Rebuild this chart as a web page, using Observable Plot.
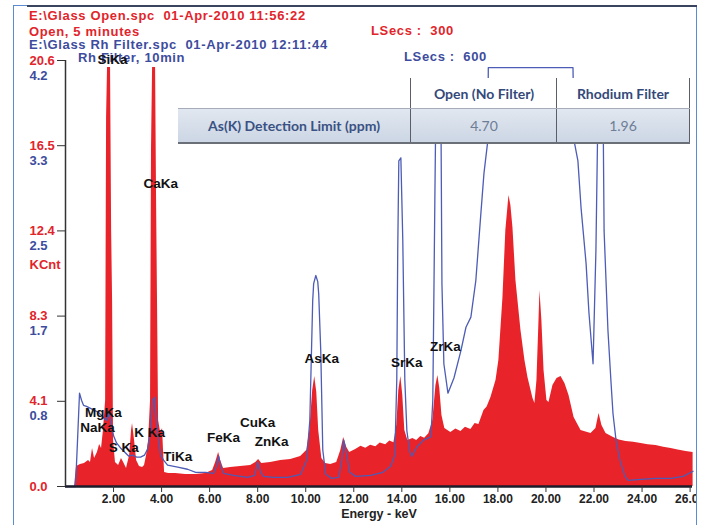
<!DOCTYPE html>
<html>
<head>
<meta charset="utf-8">
<script src="https://cdn.jsdelivr.net/npm/d3@7"></script>
<script src="https://cdn.jsdelivr.net/npm/@observablehq/plot@0.6"></script>
<style>
  html, body { margin: 0; padding: 0; background: #fff; overflow: hidden; }
  #wrap { position: relative; width: 706px; height: 525px; overflow: hidden; font-family: "Liberation Sans", Arial, sans-serif; }
  .hdr { position: absolute; font-weight: bold; font-size: 13px; line-height: 14px; white-space: pre; letter-spacing: 0.65px; z-index: 0; }
  .red { color: #e1252b; }
  .blue { color: #3d4c9e; }
  #plot { position: absolute; left: 0; top: 0; z-index: 1; }
  #tbl { position: absolute; left: 178px; top: 78px; width: 512px; height: 65px; z-index: 2; font-family: Lato, "Open Sans", sans-serif; }
  #tbl .hrow { position: absolute; left: 0; top: 0; width: 512px; height: 30px; }
  #tbl .drow { position: absolute; left: 0; top: 30px; width: 512px; height: 33px; background: linear-gradient(#e1e7f0, #ccd6e4); border-top: 1px solid #a7adb8; border-bottom: 2px solid #6b6f78; }
  #tbl .cell { position: absolute; top: 0; height: 100%; display: flex; align-items: center; justify-content: center; font-size: 14px; }
  #tbl .hrow .cell { background: #fff; font-weight: bold; color: #34497a; }
  #tbl .c1 { left: 0; width: 232px; }
  #tbl .c2 { left: 232px; width: 146px; border-left: 1.5px solid #5a5e68; }
  #tbl .c3 { left: 378px; width: 134px; border-left: 1.5px solid #5a5e68; border-right: 1.5px solid #5a5e68; box-sizing: border-box; }
  #tbl .hrow .c1 { background: transparent; }
  #tbl .drow .c1 { font-weight: bold; color: #3a5283; }
  #tbl .drow .c2, #tbl .drow .c3 { color: #6d7d95; }
  #frame { position: absolute; left: 13px; top: 5px; width: 682px; height: 560px; border: 1.5px solid #5b8bd0; z-index: 3; pointer-events: none; }
  #topline { position: absolute; left: 27px; top: 5px; width: 670px; height: 1.5px; background: #39445e; z-index: 4; }
</style>
</head>
<body>
<div id="wrap">
  <div class="hdr red" style="left:29px; top:9px;">E:\Glass Open.spc  01-Apr-2010 11:56:22</div>
  <div class="hdr red" style="left:29px; top:25px;">Open, 5 minutes</div>
  <div class="hdr red" style="left:371px; top:24px;">LSecs :  300</div>
  <div class="hdr blue" style="left:29px; top:38px;">E:\Glass Rh Filter.spc  01-Apr-2010 12:11:44</div>
  <div class="hdr blue" style="left:78px; top:51px;">Rh Filter, 10min</div>
  <div class="hdr blue" style="left:404px; top:50px;">LSecs :  600</div>
  <div id="plot"></div>
  <div id="tbl">
    <div class="hrow">
      <div class="cell c1"></div>
      <div class="cell c2">Open (No Filter)</div>
      <div class="cell c3">Rhodium Filter</div>
    </div>
    <div class="drow">
      <div class="cell c1">As(K) Detection Limit (ppm)</div>
      <div class="cell c2">4.70</div>
      <div class="cell c3">1.96</div>
    </div>
  </div>
  <div id="frame"></div>
  <div id="topline"></div>
</div>
<script>
// Open (no filter) spectrum, KCnt (red scale)
const redKeV = [0,0.375,0.46,0.625,0.79,0.96,1.04,1.125,1.21,1.33,1.42,1.5,1.58,1.67,1.71,1.75,1.875,1.92,1.96,2.0,
  2.08,2.21,2.33,2.42,2.54,2.67,2.75,2.79,2.875,2.96,3.08,3.21,3.29,3.375,3.46,3.54,3.58,3.625,3.75,3.79,
  3.83,3.875,3.96,4.04,4.08,4.125,4.29,4.58,5.0,5.42,5.83,6.125,6.25,6.375,6.46,6.58,6.875,7.29,7.71,7.92,
  8.04,8.17,8.54,8.96,9.375,9.79,10.04,10.17,10.29,10.375,10.46,10.54,10.67,10.83,11.04,11.29,11.46,11.58,11.71,11.83,
  12.08,12.3,12.5,12.7,12.92,13.1,13.33,13.5,13.67,13.79,13.875,13.96,14.04,14.125,14.25,14.46,14.62,14.79,14.95,15.125,
  15.29,15.42,15.5,15.58,15.67,15.79,16.04,16.25,16.46,16.65,16.875,17.05,17.21,17.42,17.55,17.71,17.92,18.04,18.21,18.33,
  18.46,18.54,18.625,18.75,18.96,19.125,19.25,19.46,19.54,19.625,19.71,19.75,19.83,19.92,20.04,20.125,20.29,20.46,20.625,20.79,
  20.96,21.17,21.46,21.7,21.875,22.08,22.21,22.33,22.5,22.79,23.05,23.33,23.65,23.96,24.25,24.58,24.9,25.21,25.5,25.83,26.125];
const redKCnt = [0,0,0.97,1.06,1.11,1.26,1.16,1.84,1.35,1.64,2.03,1.84,2.71,4.16,17.84,20.26,20.26,12.38,9.0,2.22,
  1.16,1.02,1.35,1.16,0.87,1.5,2.71,3.05,2.22,1.26,0.97,0.92,1.02,1.5,2.22,4.16,16.25,20.26,20.26,13.98,
  9.0,3.19,2.61,2.8,1.74,0.68,0.63,0.63,0.58,0.58,0.63,0.77,1.16,1.64,1.26,0.87,0.92,0.97,1.02,1.16,
  1.31,1.11,1.16,1.26,1.31,1.45,1.74,2.71,4.64,5.32,4.55,2.71,1.35,1.11,1.06,1.16,1.74,2.37,1.89,1.64,
  1.79,1.95,1.85,2.0,1.92,2.1,2.02,2.2,2.12,2.95,4.64,5.32,4.40,2.71,2.22,2.32,2.22,2.42,2.33,2.55,
  3.19,4.88,5.37,4.74,3.43,2.80,2.61,2.78,2.66,2.86,2.76,3.05,3.0,3.68,3.85,4.30,5.13,6.09,9.14,12.38,
  14.07,13.59,12.52,9.96,7.54,6.09,5.27,4.26,4.01,5.13,8.03,9.48,8.03,5.61,4.16,4.06,4.88,5.22,5.32,4.98,
  4.40,3.34,2.71,2.62,2.56,2.80,3.53,2.95,2.56,2.38,2.25,2.18,2.14,2.08,2.02,1.98,1.9,1.84,1.76,1.69,1.64];

// Rh filter spectrum, KCnt (blue scale)
const blueKeV = [0,0.417,0.5,0.583,0.667,0.75,0.875,1.04,1.21,1.375,1.54,1.71,1.79,1.875,2.0,2.125,2.29,2.46,2.625,2.79,
  2.96,3.125,3.29,3.42,3.54,3.625,3.71,3.79,3.875,3.96,4.08,4.25,4.67,5.08,5.42,5.83,6.17,6.29,6.375,6.46,
  6.58,7.0,7.58,7.875,8.0,8.125,8.25,8.67,9.25,9.79,10.04,10.17,10.29,10.33,10.42,10.5,10.54,10.625,10.71,10.83,11.08,11.375,
  11.5,11.58,11.71,11.83,12.08,12.71,13.21,13.54,13.71,13.79,13.83,13.875,13.96,14.04,14.125,14.21,14.33,14.42,14.625,14.92,
  15.21,15.29,15.375,15.42,15.625,15.67,15.75,15.92,16.17,16.46,16.67,16.875,17.08,17.29,17.42,17.58,17.6,21.125,21.17,21.33,
  21.46,21.67,21.79,21.96,22.08,22.17,22.375,22.42,22.58,22.71,22.79,22.92,23.08,23.29,23.42,23.96,24.58,25.21,25.71,26.125];
const blueCnt = [0,0,0.45,0.92,0.85,0.80,0.79,0.77,0.75,0.73,0.69,0.65,0.72,0.66,0.50,0.43,0.38,0.34,0.30,0.31,
  0.29,0.29,0.31,0.37,0.55,0.85,0.88,0.62,0.45,0.31,0.26,0.21,0.19,0.17,0.14,0.14,0.13,0.20,0.30,0.20,
  0.13,0.11,0.09,0.11,0.24,0.14,0.10,0.09,0.09,0.12,0.26,0.65,1.83,2.0,2.08,2.02,1.9,1.34,0.36,0.12,0.08,0.09,
  0.26,0.46,0.31,0.14,0.10,0.11,0.14,0.20,0.31,1.05,2.33,3.21,3.24,2.43,1.05,0.55,0.34,0.30,0.39,0.46,
  0.49,0.85,2.82,3.81,3.81,2.0,1.21,0.92,1.07,1.34,1.57,1.67,2.03,2.69,3.09,3.41,4.13,4.13,3.41,3.21,
  2.75,2.20,1.71,1.21,2.33,3.81,3.81,2.52,1.54,1.02,0.72,0.45,0.26,0.10,0.06,0.07,0.08,0.08,0.10,0.15];

// Axis ticks
const xTicks = [2,4,6,8,10,12,14,16,18,20,22,24,26];
const yTicks = [0,4.12,8.24,12.36,16.48,20.6];
const redTickLabels = ["0.0","4.1","8.3","12.4","16.5","20.6"];
const blueTickLabels = ["","0.8","1.7","2.5","3.3","4.2"];
const redMax = 20.6, blueMax = 4.2;

// Peak labels (energy keV, label height KCnt red scale)
const peakNames = ["SiKa","CaKa","MgKa","NaKa","S Ka","K Ka","TiKa","FeKa","CuKa","ZnKa","AsKa","SrKa","ZrKa"];
const peakKeV =   [1.96, 3.96, 1.58, 1.33, 2.42, 3.5, 4.67, 6.58, 8.0, 8.58, 10.67, 14.21, 15.81];
const peakLevel = [20.65,14.65,3.58, 2.85, 1.89, 2.61,1.45, 2.37, 3.09,2.18, 6.19, 6.0, 6.77];

const red = redKeV.map((e,i) => ({e, v: redKCnt[i]}));
const blue = blueKeV.map((e,i) => ({e, b: blueCnt[i]}));
const peaks = peakNames.map((n,i) => ({n, e: peakKeV[i], v: peakLevel[i]}));
const k = redMax / blueMax;

const RED = "#e1252b", BLUE = "#3d4c9e";
const chart = Plot.plot({
  width: 697, height: 525,
  marginLeft: 65, marginRight: 5, marginTop: 60, marginBottom: 39,
  x: {domain: [0, 26.1], axis: null},
  y: {domain: [0, redMax], axis: null},
  style: {background: "transparent", overflow: "hidden", fontFamily: "'Liberation Sans', Arial, sans-serif"},
  marks: [
    Plot.areaY(red, {x: "e", y: "v", fill: "#e8232a"}),
    Plot.lineY(blue, {x: "e", y: d => d.b * k, stroke: "#4d5cb6", strokeWidth: 1.3}),
    Plot.ruleY([0], {stroke: "#1c1d2b", strokeWidth: 2.5}),
    Plot.ruleX([0], {stroke: "#333", strokeWidth: 1.5}),
    Plot.axisX(xTicks, {tickSize: 6, tickPadding: 2, tickFormat: d => d.toFixed(2), label: null,
      fontSize: 12, fontWeight: "bold", fill: "#222", stroke: "#333"}),
    Plot.axisY(yTicks, {tickSize: 8, tickFormat: () => "", label: null, stroke: "#333"}),
    Plot.text(yTicks, {y: d => d, text: (d,i) => redTickLabels[i], frameAnchor: "left", dx: -36, textAnchor: "start",
      fill: RED, fontWeight: "bold", fontSize: 13}),
    Plot.text(yTicks, {y: d => d, text: (d,i) => blueTickLabels[i], frameAnchor: "left", dx: -36, dy: 15, textAnchor: "start",
      fill: BLUE, fontWeight: "bold", fontSize: 13}),
    Plot.text(["KCnt"], {y: [yTicks[3]], frameAnchor: "left", dx: -36, dy: 34, textAnchor: "start",
      fill: RED, fontWeight: "bold", fontSize: 13}),
    Plot.text(peaks, {x: "e", y: "v", text: "n", fill: "#111", fontWeight: "bold", fontSize: 13.5}),
    Plot.text(["Energy - keV"], {frameAnchor: "bottom", dy: 31, fill: "#222", fontWeight: "bold", fontSize: 12.5})
  ]
});
document.getElementById("plot").appendChild(chart);
</script>
</body>
</html>
